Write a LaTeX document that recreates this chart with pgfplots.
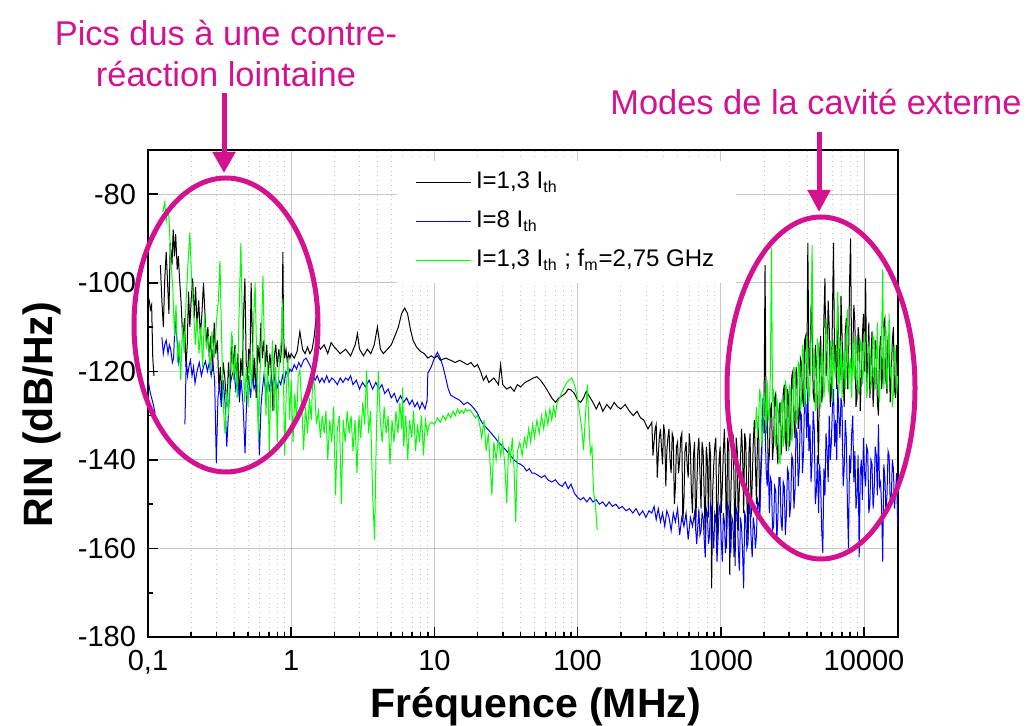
\documentclass[border=0pt]{standalone}
\usepackage{fontspec}
\setmainfont{Liberation Sans}
\usepackage{pgfplots}
\pgfplotsset{compat=1.18}
\usetikzlibrary{arrows.meta}
\definecolor{annot}{RGB}{212,18,144}
\definecolor{gridgray}{RGB}{200,200,200}

% I = 1,3 Ith
\pgfplotstableread{
x y
0.100 -103
0.102 -104
0.104 -106
0.106 -105
0.108 -117
0.110 -121
0.115 nan
0.122 -96
0.125 -104
0.128 -110
0.131 -99
0.134 -93
0.137 -100
0.140 -107
0.143 -91
0.147 -96
0.150 -88
0.153 -94
0.156 -89
0.160 -97
0.163 -94
0.166 -99
0.170 -104
0.175 -113
0.180 -108
0.184 -119
0.188 -114
0.192 -102
0.196 -110
0.200 -104
0.205 -99
0.210 -108
0.215 -101
0.220 -110
0.226 -104
0.232 -112
0.238 -107
0.244 -100
0.250 -107
0.256 -114
0.262 -110
0.268 -117
0.275 -112
0.282 -120
0.290 -109
0.297 -116
0.305 -113
0.313 -124
0.320 -119
0.328 -126
0.335 -118
0.343 -121
0.356 -128
0.365 -118
0.375 -124
0.385 -112
0.395 -119
0.405 -114
0.415 -122
0.425 -116
0.435 -127
0.445 -117
0.455 -121
0.465 -107
0.475 -99
0.485 -118
0.495 -122
0.505 -115
0.515 -119
0.525 -100
0.535 -112
0.545 -123
0.555 -117
0.570 -126
0.585 -114
0.600 -118
0.615 -109
0.630 -117
0.645 -113
0.660 -119
0.675 -114
0.690 -121
0.710 -116
0.730 -121
0.746 -129
0.760 -117
0.780 -114
0.800 -119
0.820 -115
0.840 -118
0.860 -114
0.875 -93
0.885 -112
0.900 -117
0.920 -115
0.940 -118
0.960 -116
0.980 -117
1.00 -116
1.05 -117
1.10 -115.5
1.15 -111
1.20 -115
1.25 -116
1.30 -114.5
1.35 -116
1.40 -115
1.45 -112
1.50 -107
1.54 -114
1.60 -115
1.70 -114
1.80 -116
1.90 -113.5
2.00 -114.5
2.2 -116
2.4 -115
2.6 -116.5
2.8 -114
2.9 -111.5
3.0 -115
3.2 -116.5
3.4 -115
3.6 -116
3.8 -114
4.0 -110
4.2 -115
4.4 -116
4.7 -115
5.0 -114
5.3 -112
5.6 -110
5.9 -107
6.2 -105.7
6.5 -107
6.8 -110.5
7.1 -113
7.5 -114.5
8.0 -115.5
8.5 -116
9.0 -117
9.5 -116.5
10 -117
10.5 -116.5
11 -117.5
12 -117
13 -117.5
14 -118
15 -117.5
16 -118
17 -118.5
18 -118
19 -119
20 -118.5
21 -120
22 -122
23 -121
24 -122.5
26 -121.5
28 -123
29 -118.5
30 -123
32 -124
34 -123.5
36 -124.5
38 -123
40 -123.5
43 -122.5
46 -122
49 -121.5
52 -121.2
55 -122
58 -123
62 -124.5
66 -126
70 -127
74 -126
78 -125.5
82 -125
86 -124
90 -124.2
95 -125
100 -126.5
105 -127
110 -126
115 -124.5
120 -125.5
128 -127
135 -128.5
142 -127
150 -129
160 -127.5
170 -128.5
180 -127
190 -128
200 -128.5
215 -127.5
230 -129
245 -130
260 -129
275 -130.5
290 -131
310 -133
330 -131.5
336 -139
342 -136
348 -133
354 -132
360 -144
366 -139
372 -135
379 -133
385 -137
392 -141
399 -132
406 -134
413 -146
420 -138
427 -135
435 -133
442 -140
450 -143
458 -134
466 -135
474 -150
482 -146
490 -137
499 -136
507 -143
516 -140
525 -135
534 -134
543 -154
553 -149
562 -138
572 -136
582 -141
592 -144
602 -134
613 -137
623 -147
634 -152
645 -139
656 -136
667 -156
679 -147
691 -138
703 -135
715 -143
728 -151
740 -136
753 -138
766 -148
779 -158
792 -137
806 -140
820 -153
834 -136
848 -139
863 -169
878 -147
893 -141
908 -137
924 -135
940 -160
956 -150
973 -140
990 -137
1007 -152
1025 -146
1042 -138
1060 -133
1078 -143
1097 -160
1116 -135
1136 -137
1155 -166
1175 -148
1195 -139
1216 -134
1237 -145
1259 -164
1281 -135
1303 -138
1325 -156
1348 -146
1372 -140
1396 -133
1420 -139
1444 -152
1469 -134
1495 -136
1521 -149
1547 -158
1574 -138
1601 -134
1629 -153
1657 -145
1686 -136
1715 -131
1745 -141
1775 -150
1806 -134
1837 -133
1869 -152
1902 -142
1935 -135
1968 -129
2002 -131
2037 -96
2072 -134
2108 -128
2145 -142
2182 -139
2220 -129
2259 -127
2298 -140
2338 -136
2378 -126
2419 -125
2461 -137
2504 -141
2548 -129
2592 -127
2637 -139
2682 -134
2729 -125
2776 -123
2824 -135
2873 -138
2923 -124
2974 -126
3026 -137
3078 -132
3132 -121
3186 -120
3241 -131
3297 -135
3355 -119
3413 -122
3472 -133
3532 -130
3594 -117
3656 -118
3720 -126
3784 -128
3850 -113
3916 -112
3984 -124
4053 -91
4124 -119
4195 -121
4268 -105
4342 -110
4418 -125
4494 -127
4572 -114
4651 -118
4732 -131
4814 -141
4898 -116
4982 -112
5069 -127
5157 -124
5247 -108
5337 -99
5430 -121
5524 -118
5620 -104
5717 -110
5817 -128
5917 -125
6020 -107
6125 -91
6231 -119
6339 -114
6449 -124
6561 -105
6675 -116
6791 -122
6909 -103
7028 -112
7150 -121
7274 -128
7400 -111
7529 -108
7659 -124
7792 -119
7927 -100
8065 -90
8205 -121
8347 -116
8492 -105
8639 -109
8789 -128
8942 -126
9097 -110
9255 -113
9415 -129
9579 -121
9745 -112
9914 -107
10086 -120
10261 -99
10440 -123
10620 -118
10805 -109
10992 -126
11183 -117
11376 -111
11574 -128
11775 -122
11979 -113
12187 -115
12398 -127
12613 -130
12832 -116
13055 -112
13281 -124
13512 -120
13746 -109
13985 -108
14228 -122
14474 -125
14726 -112
14981 -115
15241 -127
15505 -121
15774 -113
16048 -110
16326 -124
16610 -126
16898 -114
17191 -118
}\lowI

% I = 8 Ith
\pgfplotstableread{
x y
0.100 -122
0.104 -125
0.108 -127
0.112 -129.4
0.118 nan
0.125 -112.3
0.128 -116
0.131 -114
0.134 -113
0.138 -116
0.141 -114
0.144 -115
0.148 -118
0.151 -117
0.155 -107.3
0.158 -112
0.161 -114
0.164 -118
0.167 -116.3
0.174 nan
0.181 -132
0.185 -117.5
0.189 -121
0.193 -119
0.198 -117.5
0.203 -121
0.208 -119
0.213 -122.7
0.220 -120
0.228 -118
0.236 -121
0.244 -119
0.252 -117.7
0.260 -120
0.268 -118
0.276 -121
0.284 -118
0.292 -122
0.300 -140.7
0.308 -126
0.316 -123
0.325 -128
0.335 -122
0.345 -127
0.355 -137
0.365 -129
0.375 -123
0.386 -121
0.398 -119.5
0.410 -124
0.422 -121
0.435 -126
0.448 -122
0.462 -128
0.476 -138.5
0.490 -125
0.505 -121
0.520 -126
0.535 -121
0.550 -124
0.570 -122
0.585 -127
0.600 -139
0.615 -128
0.630 -124
0.645 -121
0.665 -125
0.685 -122
0.705 -124
0.725 -121.5
0.748 -123.5
0.770 -121
0.795 -124
0.820 -122
0.845 -123
0.870 -121
0.895 -122.5
0.920 -120
0.95 -121
0.98 -119.5
1.01 -120
1.05 -118.5
1.09 -119.5
1.13 -118
1.17 -119
1.22 -117.5
1.27 -117
1.32 -118
1.37 -119
1.42 -121
1.47 -122
1.52 -121
1.58 -122.5
1.64 -121.5
1.70 -122.5
1.77 -121
1.84 -122.5
1.92 -121.5
2.00 -122
2.1 -123
2.2 -121.5
2.3 -122.5
2.4 -121.5
2.5 -122
2.6 -121
2.7 -123
2.85 -122
3.0 -124
3.15 -122.5
3.3 -123.5
3.5 -122
3.7 -124
3.9 -122.5
4.1 -124
4.3 -123
4.5 -125
4.75 -124
5.0 -126
5.25 -125
5.5 -127
5.8 -125.5
6.1 -127
6.4 -126
6.7 -127.5
7.0 -126.5
7.3 -128
7.6 -127
7.9 -128.5
8.2 -127
8.6 -128.5
8.9 -126.5
9.0 -120.4
9.5 -119
10.0 -117
10.5 -115.7
11.0 -117
11.5 -119
12.0 -121.5
12.5 -124
13.0 -125.4
14 -126
15 -126.5
16 -127.5
17 -127
18 -127.6
19 -128.5
20 -129.5
21 -131
22 -132
23.5 -133
25 -134
26.5 -135
28 -136
30 -137
32 -138
34 -139
36 -140
38 -140.7
40 -141
42 -141.5
44 -142.5
46 -142
48 -143
50 -143
53 -143.5
56 -144
59 -143.5
62 -144.5
66 -145
70 -144.5
74 -145.5
78 -146
82 -145
86 -146.5
90 -145.5
95 -147.5
100 -148.5
105 -149
110 -148.5
116 -149.5
122 -148.5
128 -149.5
135 -149
142 -150
150 -149.5
158 -150.5
166 -149.5
175 -150.5
185 -150
195 -151
205 -150.5
218 -151.5
230 -151
243 -152
256 -151
270 -152.5
285 -151.5
300 -153
315 -151.5
330 -152
342 -150.5
354 -153.5
366 -151
379 -154
392 -152
406 -155
420 -151.5
435 -153
450 -156
466 -152
482 -154
499 -151
516 -157
534 -153
553 -155
572 -152
592 -158
613 -153
634 -155
656 -152
679 -159
703 -151
715 -157
728 -156
740 -152
753 -153
766 -158
779 -162
792 -151
806 -152
820 -159
834 -157
848 -150
863 -151
878 -156
893 -160
908 -152
924 -153
940 -163
956 -158
973 -151
990 -150
1007 -158
1025 -163
1042 -152
1060 -154
1078 -161
1097 -157
1116 -150
1136 -151
1155 -159
1175 -161
1195 -153
1216 -154
1237 -162
1259 -158
1281 -151
1303 -152
1325 -160
1348 -165
1372 -153
1396 -155
1420 -161
1444 -169
1469 -152
1495 -153
1521 -160
1547 -159
1574 -150
1601 -151
1629 -158
1657 -162
1686 -153
1715 -155
1745 -160
1775 -157
1806 -149
1837 -150
1869 -153
1902 -145
1935 -138
1968 -126
2002 -134
2037 -131
2072 -142
2108 -146
2145 -139
2182 -152
2220 -144
2259 -145
2298 -156
2338 -155
2378 -146
2419 -147
2461 -158
2504 -153
2548 -144
2592 -144
2637 -154
2682 -156
2729 -145
2776 -146
2824 -157
2873 -152
2923 -142
2974 -143
3026 -153
3078 -150
3132 -139
3186 -140
3241 -151
3297 -147
3355 -133
3413 -134
3472 -146
3532 -142
3594 -129
3656 -130
3720 -143
3784 -138
3850 -125
3916 -127
3984 -135
4053 -124
4124 -138
4195 -132
4268 -145
4342 -140
4418 -129
4494 -133
4572 -150
4651 -147
4732 -139
4814 -152
4898 -141
4982 -145
5069 -156
5157 -161
5247 -142
5337 -148
5430 -134
5524 -138
5620 -145
5717 -130
5817 -140
5917 -136
6020 -128
6125 -124
6231 -137
6339 -131
6449 -140
6561 -123
6675 -130
6791 -135
6909 -126
7028 -128
7150 -146
7274 -142
7400 -131
7529 -135
7659 -150
7792 -160
7927 -139
8065 -143
8205 -134
8347 -130
8492 -145
8639 -138
8789 -151
8942 -148
9097 -139
9255 -162
9415 -143
9579 -140
9745 -149
9914 -135
10086 -143
10261 -146
10440 -137
10620 -138
10805 -152
10992 -150
11183 -140
11376 -141
11574 -151
11775 -147
11979 -137
12187 -139
12398 -148
12613 -132
12832 -146
13055 -145
13281 -151
13512 -163
13746 -141
13985 -144
14228 -152
14474 -148
14726 -138
14981 -139
15241 -150
15505 -149
15774 -140
16048 -142
16326 -151
16610 -147
16898 -143
17191 -155
}\highI

% I = 1,3 Ith ; fm = 2,75 GHz
\pgfplotstableread{
x y
0.127 -84
0.131 -81.8
0.134 -86
0.137 -83.6
0.140 -85
0.145 -96
0.149 -101
0.153 -112
0.157 -105
0.161 -118
0.165 -113
0.169 -122
0.174 -110
0.179 -116
0.184 -105
0.190 -96
0.196 -88.6
0.202 -100
0.208 -106
0.214 -114
0.220 -108
0.227 -116
0.234 -110
0.241 -119
0.248 -107
0.256 -115
0.264 -112
0.272 -120
0.280 -111
0.290 -117
0.300 -109
0.310 -104
0.318 -95
0.327 -113
0.336 -128
0.345 -134
0.355 -124
0.365 -130
0.375 -118
0.385 -111
0.396 -122
0.408 -115
0.420 -126
0.432 -108
0.445 -91
0.458 -112
0.472 -127
0.486 -119
0.500 -128
0.515 -116
0.530 -124
0.545 -110
0.560 -100
0.575 -118
0.590 -135.5
0.605 -121
0.620 -112
0.635 -98.3
0.650 -115
0.667 -130
0.685 -118
0.703 -138.5
0.722 -121
0.741 -113
0.760 -129
0.780 -119
0.800 -136
0.820 -120
0.842 -115
0.864 -110
0.875 -103.5
0.888 -127
0.900 -139
0.925 -124
0.950 -117
0.975 -131
1.00 -122
1.03 -136
1.06 -125
1.09 -131
1.12 -121
1.15 -119.7
1.19 -129
1.22 -137.8
1.26 -128
1.30 -134
1.34 -126
1.38 -131
1.42 -120.4
1.46 -124
1.50 -132
1.55 -129
1.60 -135
1.65 -130
1.70 -134
1.75 -129
1.80 -140
1.86 -131
1.92 -136
1.98 -128
2.04 -148
2.10 -133
2.17 -130
2.24 -150
2.31 -131
2.38 -136
2.46 -129
2.54 -134
2.62 -130
2.70 -138
2.79 -131
2.88 -143
2.97 -130
3.06 -135
3.16 -127
3.26 -132
3.36 -119.8
3.47 -134
3.58 -129
3.70 -147
3.82 -158
3.94 -133
4.06 -120
4.19 -131
4.32 -136
4.46 -128
4.60 -134
4.75 -130
4.90 -141
5.06 -131
5.22 -136
5.39 -129
5.56 -134
5.74 -127
5.92 -133
6.00 -123.6
6.11 -137
6.31 -130
6.51 -140
6.72 -131
6.94 -135
7.16 -129
7.39 -138
7.63 -132
7.87 -136
8.13 -130
8.39 -139
8.66 -131
8.94 -134
9.2 -132
9.6 -131.5
10 -132
10.5 -130.5
11 -131.5
11.5 -130
12 -131
12.5 -129.5
13 -130.5
13.5 -129
14 -130
14.5 -128.5
15 -129.5
15.5 -128.8
16 -129.5
16.5 -128.5
17 -129
17.7 -128.7
18.5 -129.5
19.3 -130.5
20 -130
20.7 -132
21.4 -135
22.2 -131
23 -138
23.8 -134
24.6 -142
25.2 -148
26 -136
27 -140
28 -135
29 -139
30 -136
31 -141
32 -149.7
33 -137
34 -140
35 -135
36 -142
37 -154
38 -138
39.5 -136
41 -139
42.5 -135
44 -137
45.5 -133
47 -136
48.5 -132
50 -135
52 -131
54 -134
56 -130
58 -133
60 -129
62 -132
64 -128.5
66 -131
68 -128
70 -130
72 -127
75 -126
78 -124.5
81 -123.5
84 -122.5
87 -122
91 -121.5
95 -123
99 -125.5
103 -129
107 -133
110 -137.8
113 -131
117 -123
120 -132
123 -138.5
126 -137
129 -146.8
133 -150
137 -155.8
140 nan
1745 -133
1775 -128
1806 -135
1837 -131
1869 -124
1902 -126
1935 -137
1968 -133
2002 -125
2037 -127
2072 -134
2108 -122
2145 -131
2182 -130
2220 -120
2259 -92
2298 -127
2338 -124
2378 -135
2419 -137
2461 -126
2504 -128
2548 -139
2592 -141
2637 -128
2682 -126
2729 -137
2776 -135
2824 -122
2873 -124
2923 -136
2974 -138
3026 -123
3078 -125
3132 -136
3186 -133
3241 -119
3297 -121
3355 -132
3413 -130
3472 -118
3532 -119
3594 -129
3656 -127
3720 -114
3784 -116
3850 -128
3916 -125
3984 -112
4053 -118
4124 -127
4195 -123
4268 -110
4342 -91.5
4418 -120
4494 -116
4572 -129
4651 -126
4732 -113
4814 -114
4898 -127
4982 -128
5069 -115
5157 -117
5247 -126
5337 -122
5430 -108
5524 -112
5620 -124
5717 -125
5817 -113
5917 -118
6020 -127
6125 -113
6231 -120
6339 -121
6449 -111
6561 -102
6675 -125
6791 -119
6909 -113
7028 -126
7150 -118
7274 -115
7400 -124
7529 -113
7659 -106
7792 -124
7927 -119
8065 -117
8205 -126
8347 -113
8492 -120
8639 -122
8789 -112
8942 -116
9097 -125
9255 -124
9415 -113
9579 -114
9745 -123
9914 -120
10086 -111
10261 -117
10440 -126
10620 -123
10805 -114
10992 -115
11183 -124
11376 -121
11574 -112
11775 -113
11979 -124
12187 -119
12398 -109
12613 -123
12832 -127
13055 -116
13281 -111
13512 -97
13746 -124
13985 -118
14228 -110
14474 -124
14726 -119
14981 -107
15241 -121
15505 -119
15774 -128
16048 -125
16326 -114
16610 -116
16898 -125
17191 -121
}\modI

\begin{document}
\begin{tikzpicture}
\begin{axis}[
  at={(0pt,0pt)}, anchor=south west,
  scale only axis, width=375pt, height=243.5pt,
  xmode=log, xmin=0.1, xmax=17277,
  ymin=-180, ymax=-70,
  unbounded coords=jump,
  xtick={0.1,1,10,100,1000,10000},
  xticklabels={{0,1},1,10,100,1000,10000},
  minor xtick={0.2,0.3,0.4,0.5,0.6,0.7,0.8,0.9,2,3,4,5,6,7,8,9,20,30,40,50,60,70,80,90,200,300,400,500,600,700,800,900,2000,3000,4000,5000,6000,7000,8000,9000},
  ytick={-180,-160,-140,-120,-100,-80},
  yticklabels={-180,-160,-140,-120,-100,-80},
  minor ytick={-170,-150,-130,-110,-90},
  tick pos=left,
  tick align=inside,
  major tick length=5pt, minor tick length=2.5pt,
  tick style={black, line width=0.8pt},
  axis line style={line width=1pt},
  xmajorgrids, xminorgrids, ymajorgrids,
  major grid style={gridgray, line width=0.5pt, solid},
  minor grid style={gridgray, line width=0.4pt, dotted},
  tick label style={font=\fontsize{14.5}{17}\selectfont},
  yticklabel style={xshift=-2.5pt},
  xticklabel style={yshift=-3pt},
  label style={font=\fontsize{20.5}{24}\selectfont\bfseries},
  xlabel={Fréquence (MHz)},
  ylabel={RIN (dB/Hz)},
  xlabel style={at={(axis description cs:0.517,-0.1643)}, anchor=base},
  ylabel style={at={(axis description cs:-0.1267,0.456)}, anchor=base},
  legend style={at={(0.332,0.979)}, anchor=north west, draw=none, fill=white,
    inner xsep=9pt, inner ysep=5pt,
    font=\fontsize{12}{14}\selectfont,
    nodes={inner ysep=0pt, text height=9pt, text depth=3pt},
    row sep=7.5pt},
  legend cell align=left,
  legend image code/.code={\draw[#1, line width=0.8pt] (0pt,0pt) -- (27.5pt,0pt);},
]
\addplot[black, line width=0.5pt] table {\lowI};
\addlegendentry{I=1,3 I\textsubscript{th}}
\addplot[blue, line width=0.5pt] table {\highI};
\addlegendentry{I=8 I\textsubscript{th}}
\addplot[green, line width=0.5pt] table {\modI};
\addlegendentry{I=1,3 I\textsubscript{th} ; f\textsubscript{m}=2,75 GHz}
\end{axis}

% annotations, in pixel units of the 1027x726 picture (origin top left)
\begin{scope}[x=0.5pt, y=-0.5pt, shift={(-74pt,318.5pt)}]
  \draw[annot, line width=2.5pt] (226,325) ellipse [x radius=46pt, y radius=73.5pt];
  \draw[annot, line width=2.5pt] (821,388) ellipse [x radius=47pt, y radius=85.5pt];
  \draw[annot, line width=2.5pt, -{Triangle[width=11pt, length=10.5pt]}] (224,93) -- (224,173);
  \draw[annot, line width=2.5pt, -{Triangle[width=11pt, length=11pt]}] (819,132) -- (819,212);
  \node[annot, anchor=base, font=\fontsize{17.2}{20}\selectfont] at (226,46) {Pics dus à une contre-};
  \node[annot, anchor=base, font=\fontsize{17.2}{20}\selectfont] at (226,87) {réaction lointaine};
  \node[annot, anchor=base, font=\fontsize{17.2}{20}\selectfont] at (816,115) {Modes de la cavité externe};
\end{scope}
\pgfresetboundingbox
\path (-74pt,-44.5pt) rectangle (439.5pt,318.5pt);
\end{tikzpicture}
\end{document}
